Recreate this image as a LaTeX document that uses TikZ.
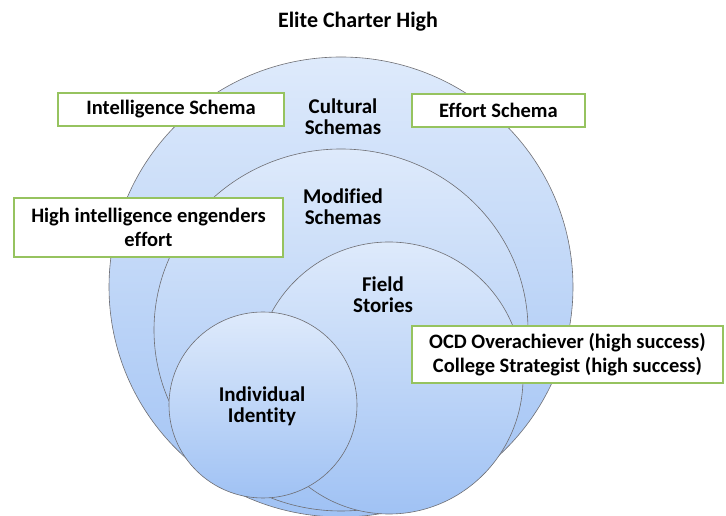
\documentclass[tikz,border=0pt]{standalone}
\usepackage{fontspec}
\setmainfont{Carlito}[Ligatures=NoCommon]
\usetikzlibrary{shapes.geometric}
\definecolor{ringtop}{RGB}{222,234,251}
\definecolor{ringbot}{RGB}{160,194,244}
\definecolor{ringline}{RGB}{110,110,115}
\definecolor{boxgreen}{RGB}{150,195,95}
\tikzset{
  ring/.style={ellipse, draw=ringline, line width=0.6pt, inner sep=0pt,
    top color=ringtop, bottom color=ringbot},
  ringlabel/.style={align=center, font=\bfseries\fontsize{21}{21}\selectfont},
  schemabox/.style={draw=boxgreen, line width=2pt, fill=white, align=center,
    inner sep=0pt, font=\bfseries\fontsize{20.5}{24}\selectfont},
}
\begin{document}
\begin{tikzpicture}[x=1pt,y=1pt]
\useasboundingbox (0,0) rectangle (726,516);
% title
\node[font=\bfseries\fontsize{22}{24}\selectfont] (title) at (358,494) {Elite Charter High};
% nested ellipses, outermost first
\node[ring, minimum width=464pt, minimum height=460pt] (cultural) at (341,229) {};
\node[ring, minimum width=374pt, minimum height=362pt] (modified) at (341,186) {};
\node[ring, minimum width=268pt, minimum height=272pt] (field) at (389,138) {};
\node[ring, minimum width=188pt, minimum height=186pt] (individual) at (263,111) {};
% ring labels
\node[ringlabel] (culturaltext) at (343,399) {Cultural\\Schemas};
\node[ringlabel] (modifiedtext) at (343,309) {Modified\\Schemas};
\node[ringlabel] (fieldtext) at (383,221) {Field\\Stories};
\node[ringlabel] (individualtext) at (262,110) {Individual\\Identity};
% schema boxes
\node[schemabox, minimum width=226pt, minimum height=33pt] (intel) at (171,406.5) {Intelligence Schema};
\node[schemabox, minimum width=173pt, minimum height=33pt] (effort) at (498.5,405.5) {Effort Schema};
\node[schemabox, minimum width=269pt, minimum height=59pt] (engender) at (148.5,288.5) {High intelligence engenders\\effort};
\node[schemabox, minimum width=311pt, minimum height=57pt] (ocd) at (567.5,161.5) {OCD Overachiever (high success)\\College Strategist (high success)};
\end{tikzpicture}
\end{document}
